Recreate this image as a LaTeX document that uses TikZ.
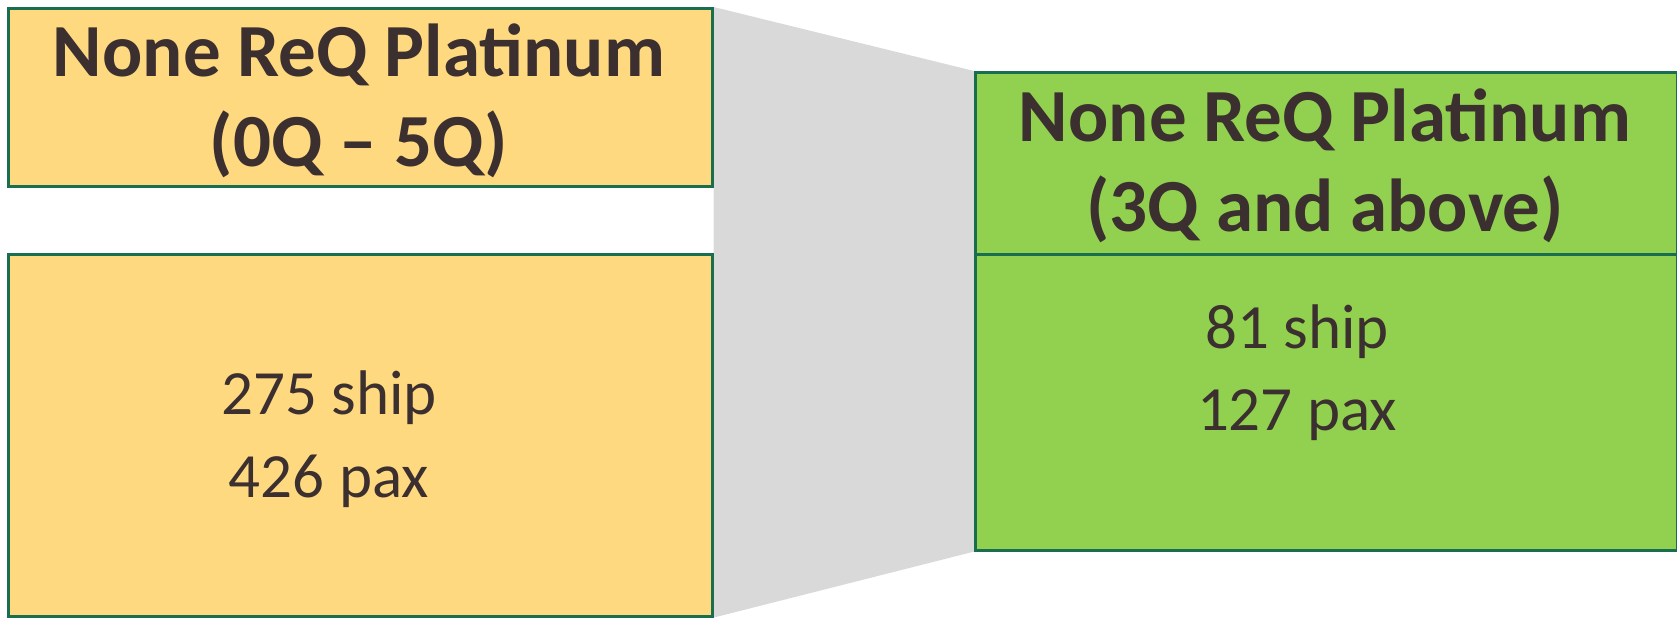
\documentclass[tikz,border=0pt]{standalone}
\usepackage{fontspec}
\setmainfont{Carlito}
\usepackage{xcolor}
\usepackage{tikz}
\usetikzlibrary{positioning,backgrounds}

\definecolor{boxline}{RGB}{25,110,80}
\definecolor{lowfill}{HTML}{FFD980}
\definecolor{highfill}{HTML}{92D050}
\definecolor{funnel}{HTML}{D9D9D9}
\definecolor{inktext}{RGB}{59,47,47}

\begin{document}
\begin{tikzpicture}[x=0.5pt,y=-0.5pt,
    box/.style={draw=boxline,line width=1.3pt,rectangle,anchor=north west,inner sep=0pt},
    lowbox/.style={box,fill=lowfill},
    highbox/.style={box,fill=highfill},
    headtxt/.style={anchor=base,text=inktext,font=\fontsize{37.5pt}{45pt}\selectfont\bfseries,inner sep=0pt},
    bodytxt/.style={anchor=base,text=inktext,font=\fontsize{31.5pt}{41pt}\selectfont,inner sep=0pt}]
            \useasboundingbox (0,0) rectangle (1677,620);
            % boxes
            \node[lowbox,minimum width=352pt,minimum height=89pt] (lowhead) at (7,7) {};
            \node[lowbox,minimum width=352pt,minimum height=181pt] (lowbody) at (7,253) {};
            \node[highbox,minimum width=351pt,minimum height=91pt] (highhead) at (974,71) {};
            \node[highbox,minimum width=351pt,minimum height=148pt] (highbody) at (974,253) {};
            % grey funnel between the two sides
            \begin{pgfonlayer}{background}
            \fill[funnel] (lowhead.north east) -- (highhead.north west)
                -- (highbody.south west) -- (lowbody.south east) -- cycle;
            \end{pgfonlayer}
            % texts
            \node[headtxt] (lowt1) at (359,77) {None ReQ Platinum};
            \node[headtxt] (lowt2) at (359,167) {(0Q – 5Q)};
            \node[bodytxt] (lowb1) at (329,415) {275 ship};
            \node[bodytxt] (lowb2) at (329,497) {426 pax};
            \node[headtxt] (hight1) at (1325,142) {None ReQ Platinum};
            \node[headtxt] (hight2) at (1325,232) {(3Q and above)};
            \node[bodytxt] (highb1) at (1297,349) {81 ship};
            \node[bodytxt] (highb2) at (1297,430) {127 pax};
      \end{tikzpicture}
\end{document}
